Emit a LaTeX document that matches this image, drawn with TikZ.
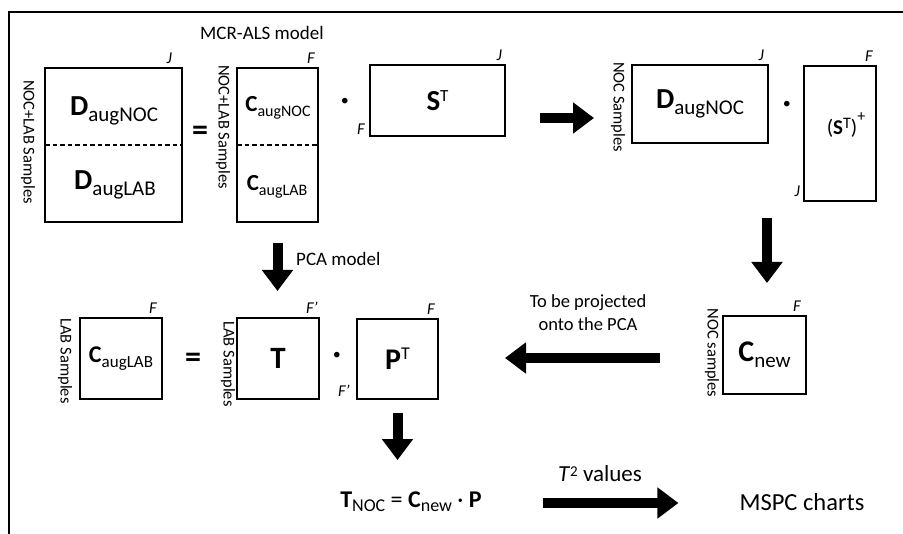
\documentclass[tikz,border=0pt]{standalone}
\usepackage{fontspec}
\setmainfont{Carlito}
\usetikzlibrary{arrows.meta,positioning}

\newcommand{\fs}[1]{\fontsize{#1}{#1}\selectfont}
\newcommand{\mtx}[4]{{\fs{#1}\bfseries #2}\raisebox{-\dimexpr#3pt*10/35\relax}{\fs{#3}#4}}
\newcommand{\mtxT}[3]{{\fs{#1}\bfseries #2}\raisebox{\dimexpr(#1pt-#3pt)*4/5\relax}{\fs{#3}T}}

\begin{document}
\begin{tikzpicture}[x=1pt, y=-1pt]

  \tikzstyle{mbox} = [draw, line width=2.5pt, inner sep=0pt, outer sep=0pt]
  \tikzstyle{sidelbl} = [rotate=-90, inner sep=0pt, font=\fs{16.5}]
  \tikzstyle{dimlbl} = [inner sep=0pt, font=\fs{16.5}\itshape]
  \tikzstyle{txt} = [inner sep=0pt]
  \tikzstyle{dotlbl} = [inner sep=0pt, anchor=base, font=\fs{30}\bfseries]
  \tikzstyle{bigarrow} = [line width=10pt, -{Triangle[length=21pt, width=30pt]}]

  \useasboundingbox (0,0) rectangle (903,534);
  \draw[line width=1.3pt] (9,534) -- (9,12) -- (903,12);

  \node [txt, font=\fs{19}] (mcr) at (262,33) {MCR-ALS model};

  % augmented data = C S^T
  \node [mbox, minimum width=137pt, minimum height=154pt] (dall) at (113.5,145) {};
  \draw [dash pattern=on 4.5pt off 3pt, line width=1.5pt] (dall.west) -- (dall.east);
  \node [txt, anchor=base] (dnoctxt) at (114,116) {\mtx{29}{D}{21}{augNOC}};
  \node [txt, anchor=base] (dlabtxt) at (115,190) {\mtx{29}{D}{21}{augLAB}};
  \node [sidelbl] (dside) at (28,142) {NOC+LAB Samples};
  \node [dimlbl, above left=4pt and 10pt of dall.north east] {J};

  \node [txt, font=\fs{32}\bfseries] (eq1) at (200,133) {=};

  \node [mbox, minimum width=81pt, minimum height=154pt] (call) at (277.5,145) {};
  \draw [dash pattern=on 4.5pt off 3pt, line width=1.5pt] (call.west) -- (call.east);
  \node [txt, anchor=base] (cnoctxt) at (278,112) {\mtx{23}{C}{16}{augNOC}};
  \node [txt, anchor=base] (clabtxt) at (277,191) {\mtx{23}{C}{16}{augLAB}};
  \node [sidelbl] (cside) at (223,127) {NOC+LAB Samples};
  \node [dimlbl, above left=4pt and 3pt of call.north east] {F};

  \node [dotlbl] (dot1) at (345,110) {·};

  \node [mbox, minimum width=135pt, minimum height=71pt] (st) at (437.5,100.5) {\mtxT{29}{S}{17}};
  \node [dimlbl, above left=4pt and 3pt of st.north east] {J};
  \node [dimlbl, above left=1pt and 5pt of st.south west] {F};

  % projection of NOC samples
  \node [mbox, minimum width=136pt, minimum height=78pt] (dnoc) at (700,104) {\mtx{29}{D}{21}{augNOC}};
  \node [sidelbl] (nside) at (618,107) {NOC Samples};
  \node [dimlbl, above left=4pt and 4pt of dnoc.north east] {J};

  \path [draw, bigarrow, shorten <=35pt, shorten >=38pt] ([yshift=-17.5pt]st.east) -- ([yshift=-14pt]dnoc.west);

  \node [dotlbl] (dot2) at (787,113) {·};

  \node [mbox, minimum width=72pt, minimum height=135pt] (stplus) at (840,133.5) {};
  \node [txt, anchor=base] (stplustxt) at (846,135) {\fs{21}(\textbf{S}\raisebox{6pt}{\fs{16}T})\raisebox{13pt}{\fs{16}+}};
  \node [dimlbl, above left=4pt and 3pt of stplus.north east] {F};
  \node [dimlbl, above left=4pt and 4pt of stplus.south west] {J};

  \node [mbox, minimum width=83pt, minimum height=78pt] (cnew) at (764.5,355) {\mtx{30}{C}{21}{new}};
  \node [sidelbl] (cnside) at (712,353) {NOC samples};
  \node [dimlbl, above left=4pt and 5pt of cnew.north east] {F};

  \path [draw, bigarrow, shorten <=17pt, shorten >=33pt] ([xshift=-73pt]stplus.south) -- ([xshift=2.5pt]cnew.north);

  % PCA model on the LAB samples
  \node [mbox, minimum width=82pt, minimum height=81pt] (clab) at (121,358.5) {\mtx{24}{C}{17}{augLAB}};
  \node [sidelbl] (lside1) at (65,361) {LAB Samples};
  \node [dimlbl, above left=4pt and 5pt of clab.north east] {F};

  \node [txt, font=\fs{32}\bfseries] (eq2) at (193,360) {=};

  \node [mbox, minimum width=82pt, minimum height=81pt] (tbox) at (278,358.5) {\fs{31}\bfseries T};
  \node [sidelbl] (lside2) at (228,364) {LAB Samples};
  \node [dimlbl, above left=4pt and 1pt of tbox.north east] {F'};

  \path [draw, bigarrow, shorten <=21pt, shorten >=27pt] (call.south) -- (call.south |- tbox.north);
  \node [txt, font=\fs{19}, anchor=west] (pcalbl) at (296,259) {PCA model};

  \node [dotlbl] (dot3) at (337,364) {·};

  \node [mbox, minimum width=81pt, minimum height=80pt] (pt) at (397.5,359) {\mtxT{30}{P}{18}};
  \node [dimlbl, above left=4pt and 3pt of pt.north east] {F};
  \node [dimlbl, above left=2pt and 7pt of pt.south west] {F'};

  \path [draw, bigarrow, shorten <=63pt, shorten >=67pt] ([yshift=-3pt]cnew.west) -- ([yshift=1pt]pt.east);
  \node [txt, font=\fontsize{18.5}{23}\selectfont, align=center] (projlbl) at (588,313) {To be projected\\onto the PCA};

  % scores and control charts
  \node [txt, anchor=base] (fml) at (411,508) {\fs{24}\textbf{T}\raisebox{-4pt}{\fs{18}NOC} = \textbf{C}\raisebox{-4pt}{\fs{18}new} · \textbf{P}};
  \path [draw, bigarrow, shorten <=14pt, shorten >=32pt] (pt.south) -- (pt.south |- fml.north);

  \node [txt, anchor=base, font=\fs{24.5}] (mspc) at (802,511) {MSPC charts};
  \path [draw, bigarrow, shorten <=61pt, shorten >=61pt] ([yshift=5pt]fml.base east) -- ([yshift=8pt]mspc.base west);
  \node [txt, anchor=base, font=\fs{23}] (t2lbl) at (600,482) {\textit{T}\raisebox{5pt}{\fs{15}2} values};

\end{tikzpicture}
\end{document}
